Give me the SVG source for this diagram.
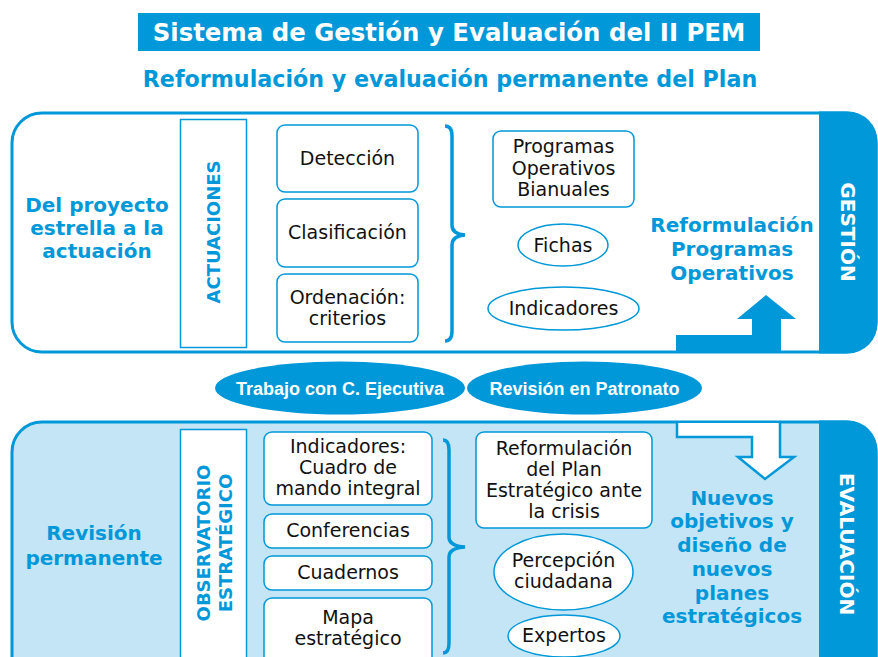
<svg xmlns="http://www.w3.org/2000/svg" width="878" height="657" viewBox="0 0 878 657">
<style>
.b{fill:#0098d8}
.bs{stroke:#0098d8;fill:none}
.box{fill:#fff;stroke:#0098d8;stroke-width:1.5}
.t{font-family:"DejaVu Sans",sans-serif;font-size:19px;fill:#111;text-anchor:middle}
.h{font-family:"DejaVu Sans",sans-serif;font-weight:bold;font-size:20px;fill:#0098d8;text-anchor:middle}
.w{font-family:"DejaVu Sans",sans-serif;font-weight:bold;font-size:20px;fill:#fff;text-anchor:middle}
.v{font-family:"DejaVu Sans",sans-serif;font-weight:bold;font-size:18px;fill:#0098d8;text-anchor:middle}
.e{font-family:"Liberation Sans",Arial,sans-serif;font-weight:bold;font-size:18px;fill:#fff;text-anchor:middle}
</style>
<rect width="878" height="657" fill="#fff"/>
<g id="title">
<rect x="138" y="13" width="622" height="38" class="b"/>
<text x="449" y="41" class="w" style="font-size:24.4px">Sistema de Gestión y Evaluación del II PEM</text>
</g>
<g id="subtitle">
<text x="450" y="87" class="h" style="font-size:22.2px">Reformulación y evaluación permanente del Plan</text>
</g>
<g id="panel-gestion">
<rect x="12" y="113" width="864" height="239" rx="30" fill="#fff" stroke="#0098d8" stroke-width="3"/>
<path d="M819,111.5 H847.5 A30,30 0 0 1 877.5,141.5 V323.5 A30,30 0 0 1 847.5,353.5 H819 Z" class="b"/>
<text transform="translate(841,232) rotate(90)" class="w">GESTIÓN</text>
</g>
<g id="panel-evaluacion">
<rect x="12" y="422" width="864" height="270" rx="30" fill="#c3e5f6" stroke="#0098d8" stroke-width="3"/>
<path d="M819,420.5 H847.5 A30,30 0 0 1 877.5,450.5 V660 H819 Z" class="b"/>
<text transform="translate(840,544) rotate(90)" class="w">EVALUACIÓN</text>
</g>
<g id="lbl-proyecto">
<text class="h"><tspan x="97" y="212">Del proyecto</tspan><tspan x="97" y="235">estrella a la</tspan><tspan x="97" y="258">actuación</tspan></text>
</g>
<g id="actuaciones">
<rect x="180.5" y="119.5" width="66" height="228" fill="#fff" stroke="#0098d8" stroke-width="1.5"/>
<text transform="translate(220,232) rotate(-90)" class="v">ACTUACIONES</text>
</g>
<g id="deteccion"><rect x="277" y="125" width="141" height="67" rx="8" class="box"/><text x="347.5" y="165" class="t">Detección</text></g>
<g id="clasificacion"><rect x="277" y="199" width="141" height="68" rx="8" class="box"/><text x="347.5" y="239" class="t">Clasificación</text></g>
<g id="ordenacion"><rect x="277" y="274" width="141" height="68" rx="8" class="box"/><text class="t"><tspan x="347.5" y="304">Ordenación:</tspan><tspan x="347.5" y="325">criterios</tspan></text></g>
<g id="programas"><rect x="493" y="131" width="141" height="76" rx="8" class="box"/><text class="t"><tspan x="563.5" y="153">Programas</tspan><tspan x="563.5" y="175">Operativos</tspan><tspan x="563.5" y="196">Bianuales</tspan></text></g>
<g id="fichas"><ellipse cx="563" cy="245" rx="45" ry="21" class="box"/><text x="563" y="252" class="t">Fichas</text></g>
<g id="indicadores"><ellipse cx="563.5" cy="308.5" rx="75.5" ry="21.5" class="box"/><text x="563.5" y="315" class="t">Indicadores</text></g>
<g id="lbl-reformulacion">
<text class="h"><tspan x="732" y="232">Reformulación</tspan><tspan x="732" y="256">Programas</tspan><tspan x="732" y="280">Operativos</tspan></text>
</g>
<g id="trabajo"><ellipse cx="340" cy="388" rx="125" ry="26.5" class="b"/><text x="340" y="395" class="e">Trabajo con C. Ejecutiva</text></g>
<g id="revision-patronato"><ellipse cx="584.5" cy="388" rx="117.5" ry="26.5" class="b"/><text x="584.5" y="395" class="e">Revisión en Patronato</text></g>
<g id="lbl-revision">
<text class="h"><tspan x="94" y="540">Revisión</tspan><tspan x="94" y="565">permanente</tspan></text>
</g>
<g id="observatorio">
<rect x="180.5" y="429.5" width="66" height="240" fill="#fff" stroke="#0098d8" stroke-width="1.5"/>
<text transform="rotate(-90)" class="v"><tspan x="-543" y="210">OBSERVATORIO</tspan><tspan x="-543" y="232">ESTRATÉGICO</tspan></text>
</g>
<g id="cuadro"><rect x="264" y="432" width="168" height="73" rx="8" class="box"/><text class="t"><tspan x="348" y="453">Indicadores:</tspan><tspan x="348" y="474">Cuadro de</tspan><tspan x="348" y="495">mando integral</tspan></text></g>
<g id="conferencias"><rect x="264" y="514" width="168" height="34" rx="8" class="box"/><text x="348" y="537" class="t">Conferencias</text></g>
<g id="cuadernos"><rect x="264" y="556" width="168" height="34" rx="8" class="box"/><text x="348" y="579" class="t">Cuadernos</text></g>
<g id="mapa"><rect x="264" y="598" width="168" height="72" rx="8" class="box"/><text class="t"><tspan x="348" y="624">Mapa</tspan><tspan x="348" y="645">estratégico</tspan></text></g>
<g id="reform-plan"><rect x="476" y="432" width="176" height="96" rx="8" class="box"/><text class="t"><tspan x="564" y="455">Reformulación</tspan><tspan x="564" y="476">del Plan</tspan><tspan x="564" y="497">Estratégico ante</tspan><tspan x="564" y="518">la crisis</tspan></text></g>
<g id="percepcion"><ellipse cx="563.5" cy="572" rx="69.5" ry="38" class="box"/><text class="t"><tspan x="563.5" y="567">Percepción</tspan><tspan x="563.5" y="588">ciudadana</tspan></text></g>
<g id="expertos"><ellipse cx="564" cy="636" rx="56" ry="21" class="box"/><text x="564" y="642" class="t">Expertos</text></g>
<g id="lbl-nuevos">
<text class="h"><tspan x="732" y="505">Nuevos</tspan><tspan x="732" y="528">objetivos y</tspan><tspan x="732" y="552">diseño de</tspan><tspan x="732" y="576">nuevos</tspan><tspan x="732" y="600">planes</tspan><tspan x="732" y="623">estratégicos</tspan></text>
</g>
<g id="connectors">
<path d="M445,126 Q452,126 452,136 V225 Q452,234 465,235 Q452,236 452,245 V331 Q452,341 445,341" class="bs" stroke-width="3.5"/>
<path d="M443,440 Q449,440 449,450 V537 Q449,546 465,547 Q449,548 449,557 V643 Q449,653 443,653" class="bs" stroke-width="3.5"/>
<polygon points="676,335 752,335 752,319 737,319 766,295 796,319 781,319 781,353 676,353" class="b"/>
<polygon points="677,423 677,437 752,437 752,457 738,457 765,479 794,457 780,457 780,423" fill="#fff"/>
<polyline points="677,423 677,437 752,437 752,457 738,457 765,479 794,457 780,457 780,423" class="bs" stroke-width="2.5"/>
</g>
</svg>
